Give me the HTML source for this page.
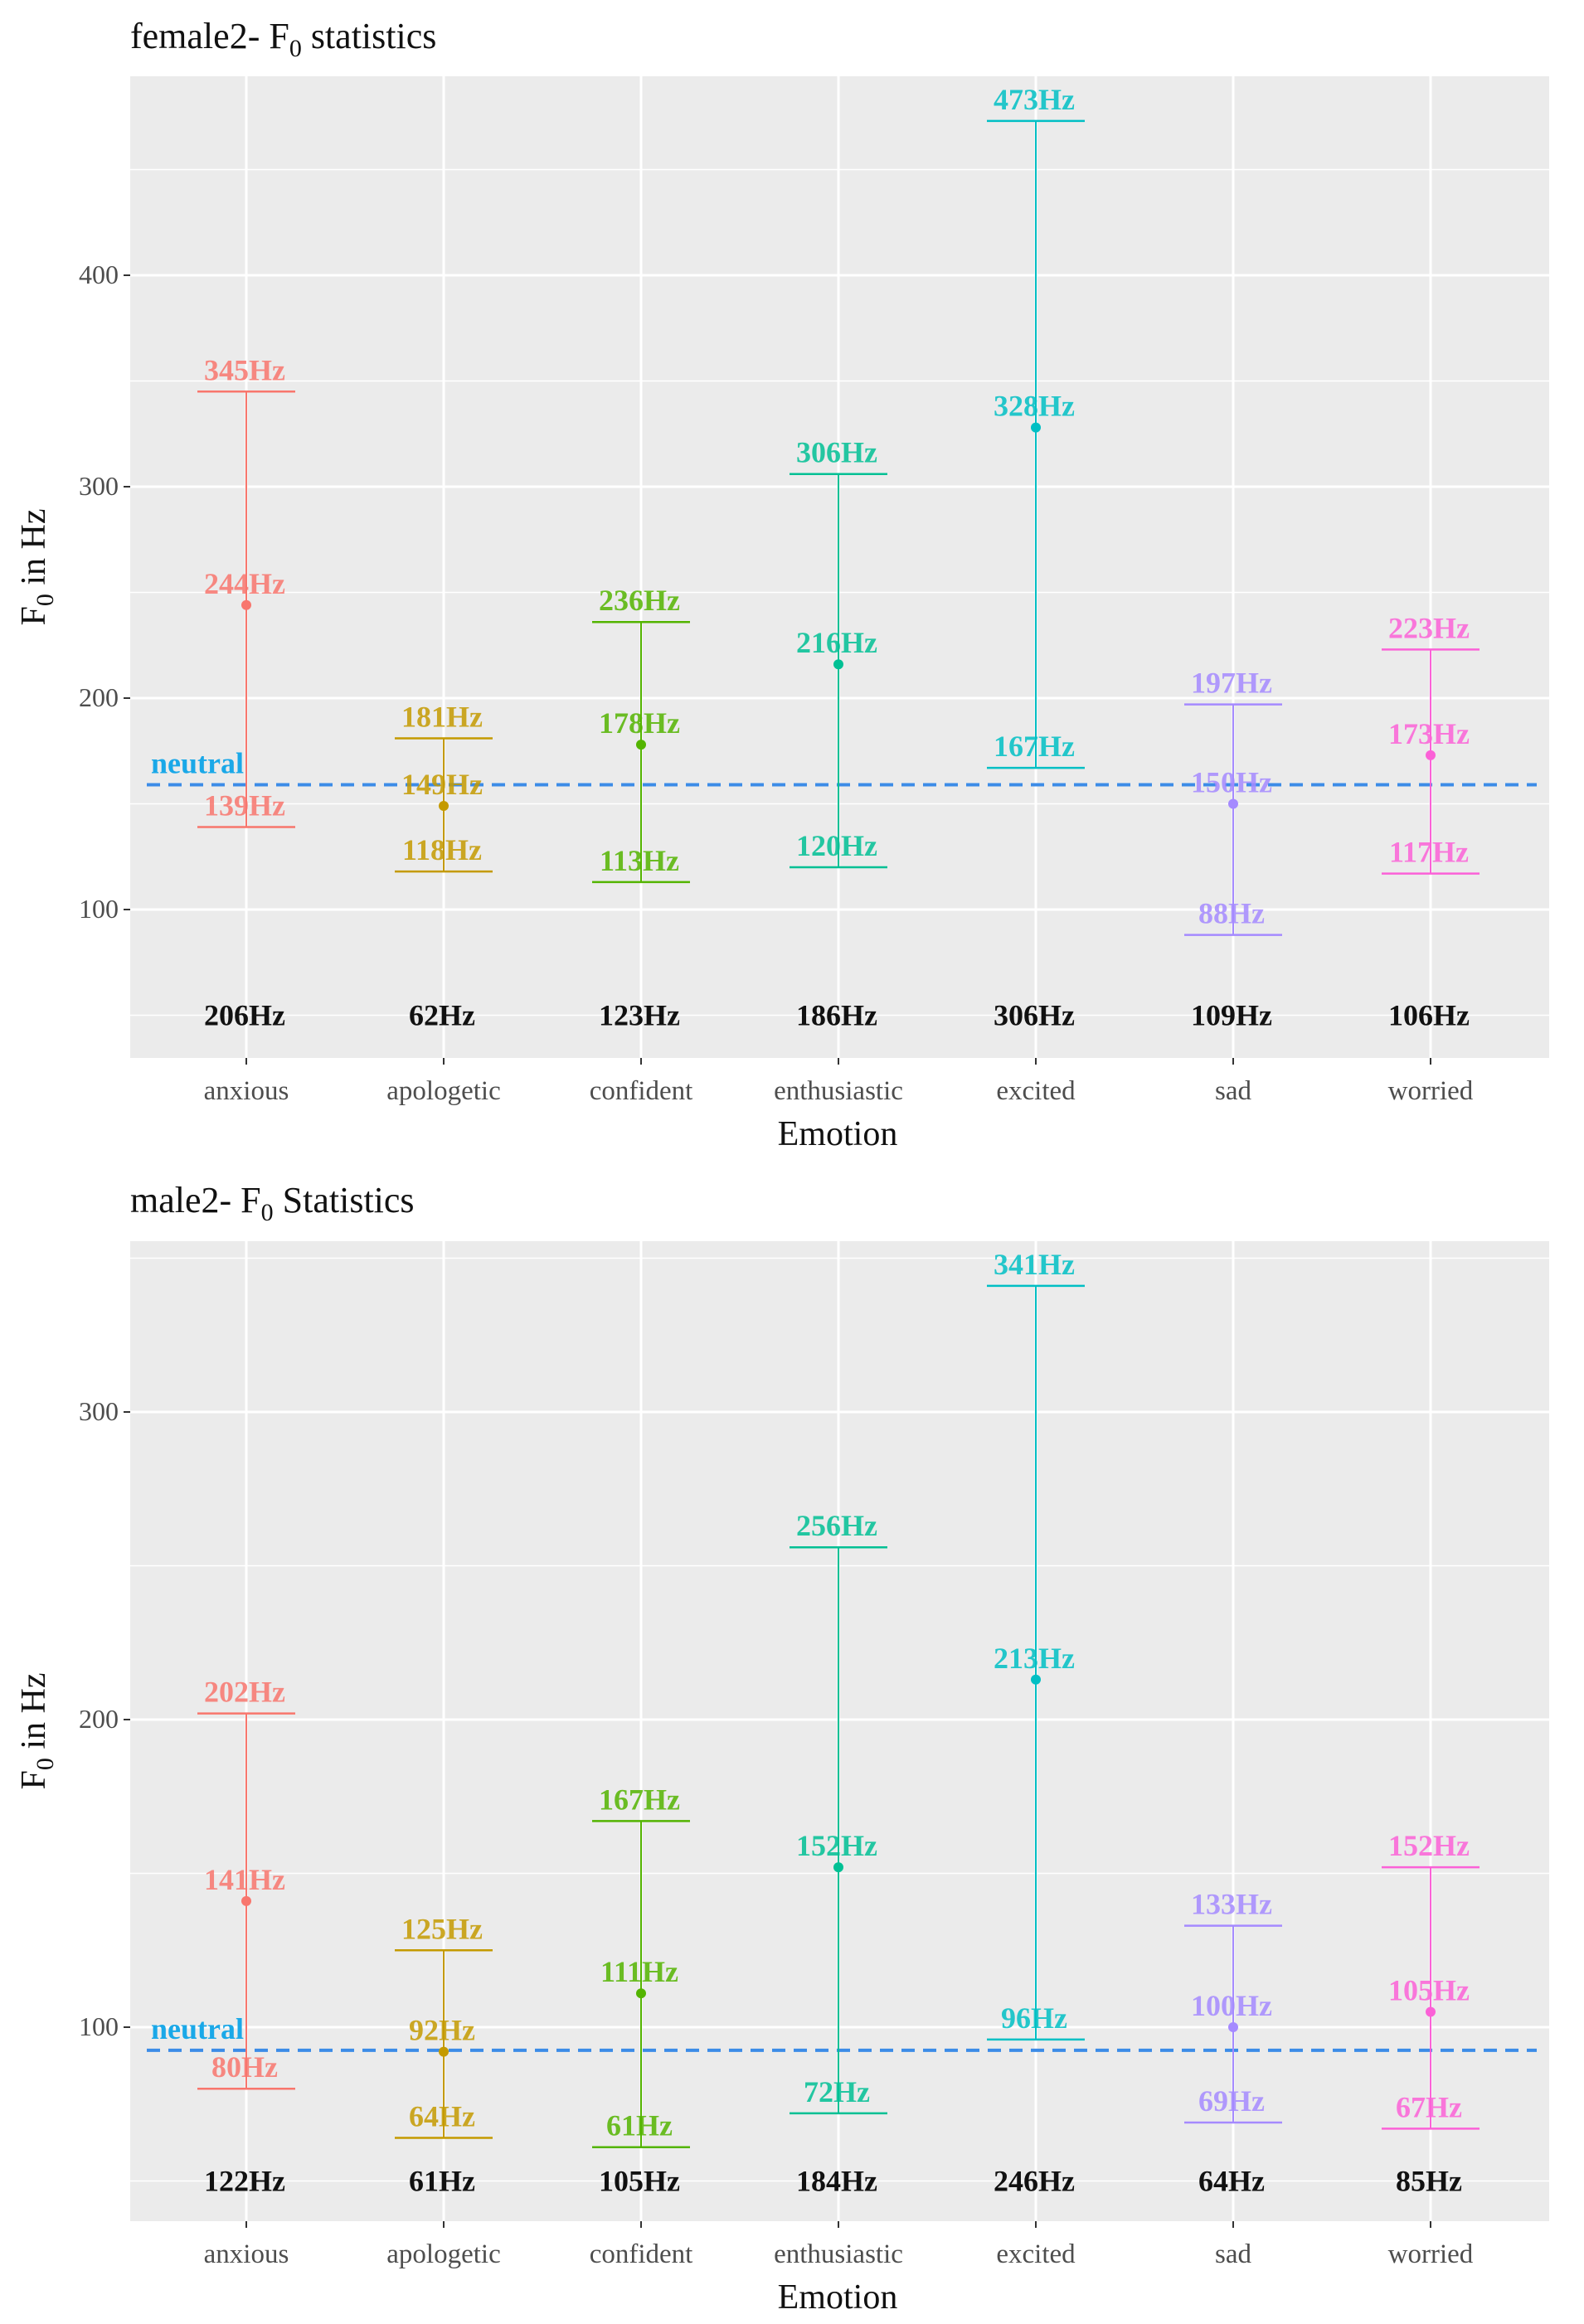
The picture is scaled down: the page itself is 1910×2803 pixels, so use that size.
<!DOCTYPE html>
<html><head><meta charset="utf-8"><style>
body{margin:0;background:#fff;}
svg{display:block;font-family:"Liberation Serif",serif;}
</style></head><body>
<svg id="chart" width="1910" height="2803" viewBox="0 0 1910 2803" xmlns="http://www.w3.org/2000/svg"></svg>
<script>
const categories = ["anxious","apologetic","confident","enthusiastic","excited","sad","worried"];
const colors = ["#F8766D","#C49A00","#53B400","#00C094","#00BFC4","#A58AFF","#FB61D7"];
const femaleMax = [345,181,236,306,473,197,223];
const femaleMean = [244,149,178,216,328,150,173];
const femaleMin = [139,118,113,120,167,88,117];
const femaleRange = [206,62,123,186,306,109,106];
const femaleNeutral = 159;
const femaleTicks = [100,200,300,400];
const femaleMinor = [50,150,250,350,450];
const maleMax = [202,125,167,256,341,133,152];
const maleMean = [141,92,111,152,213,100,105];
const maleMin = [80,64,61,72,96,69,67];
const maleRange = [122,61,105,184,246,64,85];
const maleNeutral = 92.5;
const maleTicks = [100,200,300];
const maleMinor = [50,150,250,350];

const NS="http://www.w3.org/2000/svg";
const svg=document.getElementById('chart');
function mk(tag,attrs,parent){const e=document.createElementNS(NS,tag);for(const k in attrs)e.setAttribute(k,attrs[k]);(parent||svg).appendChild(e);return e;}

function panel(cfg){
  const g=mk('g',{});
  
  
  const L=157,R=1868,T=cfg.top,B=cfg.bottom;
  const y=v=>cfg.yRef-(v-cfg.vRef)*cfg.k;
  const x=i=>297+i*238;
  const bg=mk('rect',{x:L,y:T,width:R-L,height:B-T,fill:'#EBEBEB'},g);
  
  
  cfg.minor.forEach(v=>{const l=mk('line',{x1:L,x2:R,y1:y(v),y2:y(v),stroke:'#fff','stroke-width':1.5},g);
    
    });
  cfg.ticks.forEach(v=>{const l=mk('line',{x1:L,x2:R,y1:y(v),y2:y(v),stroke:'#fff','stroke-width':3},g);
    
    
    mk('line',{x1:L-8,x2:L,y1:y(v),y2:y(v),stroke:'#333','stroke-width':2},g);
    const t=mk('text',{x:L-14,y:y(v)+10,'text-anchor':'end','font-size':32,fill:'#4D4D4D'},g);
    t.textContent=v;
    
    });
  categories.forEach((c,i)=>{const l=mk('line',{x1:x(i),x2:x(i),y1:T,y2:B,stroke:'#fff','stroke-width':3},g);
    
    
    mk('line',{x1:x(i),x2:x(i),y1:B,y2:B+8,stroke:'#333','stroke-width':2},g);
    const t=mk('text',{x:x(i),y:B+50,'text-anchor':'middle','font-size':33,fill:'#4D4D4D'},g);
    t.textContent=c;
    
    });
  const nl=mk('line',{x1:L+20,x2:R-15,y1:y(cfg.neutral),y2:y(cfg.neutral),stroke:'#3C8CE7','stroke-width':4,'stroke-dasharray':'16 10'},g);
  
  
  const nt=mk('text',{x:182,y:y(cfg.neutral)-14,'font-size':36,'font-weight':'bold',fill:'#1AA8E8'},g);
  nt.textContent='neutral';
  
  
  categories.forEach((c,i)=>{
    const col=colors[i], cx=x(i);
    const eb=mk('g',{},g);
    
    
    mk('line',{x1:cx,x2:cx,y1:y(cfg.max[i]),y2:y(cfg.min[i]),stroke:col,'stroke-width':2},eb);
    mk('line',{x1:cx-59,x2:cx+59,y1:y(cfg.max[i]),y2:y(cfg.max[i]),stroke:col,'stroke-width':2.5},eb);
    mk('line',{x1:cx-59,x2:cx+59,y1:y(cfg.min[i]),y2:y(cfg.min[i]),stroke:col,'stroke-width':2.5},eb);
    const p=mk('circle',{cx:cx,cy:y(cfg.mean[i]),r:6,fill:col},eb);
    
    
    [['max',cfg.max[i]],['mean',cfg.mean[i]],['min',cfg.min[i]]].forEach(([n,v])=>{
      const t=mk('text',{x:cx-2,y:y(v)-14,'text-anchor':'middle','font-size':36,'font-weight':'bold',fill:col,'fill-opacity':0.85},eb);
      t.textContent=v+'Hz';
      
      
    });
    const r=mk('text',{x:cx-2,y:y(50)+12,'text-anchor':'middle','font-size':36,'font-weight':'bold',fill:'#111'},g);
    r.textContent=cfg.range[i]+'Hz';
    
    
  });
  const ti=mk('text',{x:157,y:cfg.titleY,'font-size':44,fill:'#111'},g);
  ti.innerHTML=cfg.title+' F<tspan font-size="30" dy="10">0</tspan><tspan dy="-10"> '+cfg.title2+'</tspan>';
  
  
  const xt=mk('text',{x:1010,y:B+105,'text-anchor':'middle','font-size':42,fill:'#111'},g);
  xt.textContent='Emotion';
  
  
  const cy=(T+B)/2;
  const yt=mk('text',{x:0,y:0,'text-anchor':'middle','font-size':42,fill:'#111',transform:'translate(54,'+cy+') rotate(-90)'},g);
  yt.innerHTML='F<tspan font-size="30" dy="10">0</tspan><tspan dy="-10"> in Hz</tspan>';
  
  
}
panel({name:'female2-panel',top:92,bottom:1276,yRef:587,vRef:300,k:2.55,ticks:femaleTicks,minor:femaleMinor,
  max:femaleMax,mean:femaleMean,min:femaleMin,range:femaleRange,neutral:femaleNeutral,title:'female2-',title2:'statistics',titleY:58});
panel({name:'male2-panel',top:1497,bottom:2679,yRef:2074,vRef:200,k:3.71,ticks:maleTicks,minor:maleMinor,
  max:maleMax,mean:maleMean,min:maleMin,range:maleRange,neutral:maleNeutral,title:'male2-',title2:'Statistics',titleY:1462});
</script>
</body></html>
